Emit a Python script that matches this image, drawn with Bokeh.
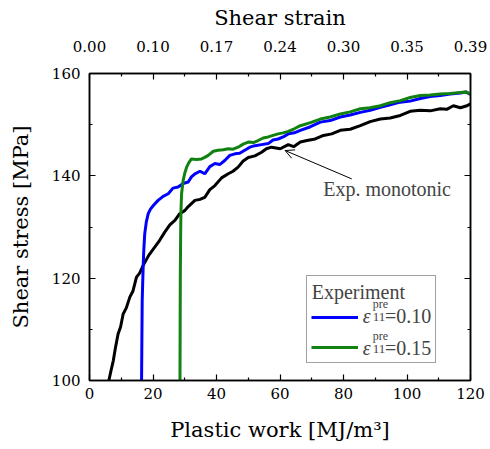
from bokeh.plotting import figure
from bokeh.models import (LinearAxis, FixedTicker, Legend, LegendItem, Label, Arrow, OpenHead)
from bokeh.embed import file_html
from bokeh.resources import INLINE

# ---- data ----
black_x = [5.8, 6.1, 6.8, 7.5, 8.2, 9.0, 9.8, 10.6, 11.6, 12.7,
           13.7, 14.8, 15.8, 16.9, 18.7, 20.6, 22.1, 23.7, 25.3, 26.9,
           28.4, 30.0, 31.1, 33.2, 34.8, 36.3, 37.9, 39.5, 41.6, 43.7,
           45.2, 46.8, 48.4, 50.0, 52.1, 54.2, 55.7, 57.3, 60.1, 62.6,
           64.3, 66.4, 68.5, 71.1, 73.7, 76.3, 79.0, 82.1, 85.3, 88.4,
           91.6, 94.7, 97.9, 101.0, 104.2, 107.3, 110.5, 112.5, 114.6, 116.8,
           118.9, 120.0]
black_y = [98.0, 100.0, 102.0, 103.9, 106.5, 109.1, 110.5, 113.0, 114.2, 116.3,
           117.5, 120.2, 121.0, 122.5, 124.5, 126.1, 127.4, 129.0, 130.4, 131.3,
           132.6, 133.2, 134.0, 135.2, 135.4, 135.8, 137.3, 138.1, 139.6, 140.4,
           140.9, 141.7, 142.9, 143.6, 143.9, 144.6, 145.3, 145.6, 145.3, 146.1,
           145.7, 146.6, 146.9, 147.2, 147.9, 148.2, 148.9, 149.1, 149.8, 150.6,
           151.1, 151.3, 151.8, 152.6, 152.8, 152.7, 153.1, 153.0, 153.7, 153.3,
           153.7, 154.1]

blue_x = [16.4, 16.4, 16.5, 16.6, 16.75, 16.9, 17.1, 17.4, 17.9, 18.5,
          19.2, 20.1, 21.6, 23.2, 24.8, 26.3, 27.9, 29.5, 31.1, 32.1,
          33.2, 34.8, 36.3, 37.9, 39.5, 41.0, 42.6, 44.2, 45.8, 47.3,
          48.9, 50.5, 52.1, 54.2, 56.3, 57.8, 59.4, 61.0, 62.6, 64.5,
          66.4, 69.6, 72.7, 75.8, 79.0, 82.1, 85.3, 88.4, 91.6, 94.7,
          97.9, 101.0, 104.2, 107.3, 110.5, 113.6, 116.8, 118.5, 120.0]
blue_y = [98.0, 100.0, 108.0, 115.6, 119.0, 122.1, 125.5, 128.7, 131.0, 132.6,
          133.5, 134.2, 135.2, 136.0, 136.5, 137.6, 137.8, 138.5, 138.8, 139.8,
          140.4, 140.9, 140.4, 141.8, 142.4, 142.2, 143.0, 144.0, 144.3, 144.4,
          145.0, 145.6, 145.9, 146.1, 146.3, 147.0, 147.2, 147.6, 148.2, 148.4,
          148.9, 149.6, 150.5, 150.8, 151.5, 151.9, 152.4, 152.8, 153.4, 153.9,
          154.4, 154.6, 155.1, 155.5, 155.7, 156.0, 156.2, 156.4, 155.9]

green_x = [28.5, 28.5, 28.55, 28.6, 28.7, 28.8, 29.0, 29.5, 30.0, 30.6,
           31.3, 32.1, 33.7, 35.3, 36.3, 37.4, 39.0, 40.5, 42.1, 43.7,
           45.2, 46.8, 48.4, 50.0, 51.6, 53.1, 54.7, 56.3, 57.8, 59.4,
           61.0, 62.6, 64.5, 66.4, 69.6, 72.7, 75.8, 79.0, 82.1, 85.3,
           88.4, 91.6, 94.7, 97.9, 101.0, 104.2, 107.3, 110.5, 113.6, 116.8,
           118.5, 120.0]
green_y = [98.0, 100.0, 110.0, 120.0, 128.0, 133.0, 136.5, 139.1, 140.5, 141.7,
           142.6, 143.3, 143.2, 143.3, 143.6, 144.0, 144.8, 145.0, 145.1, 145.3,
           145.2, 145.6, 146.2, 146.6, 146.5, 146.9, 147.4, 147.6, 147.9, 148.2,
           148.4, 148.7, 149.2, 149.8, 150.4, 151.1, 151.5, 152.1, 152.5, 153.1,
           153.3, 153.7, 154.3, 154.7, 155.3, 155.7, 155.8, 156.0, 156.1, 156.3,
           156.4, 156.0]

x_ticks = [0, 20, 40, 60, 80, 100, 120]
x_minor = [10, 30, 50, 70, 90, 110]
y_ticks = [100, 120, 140, 160]
y_minor = [110, 130, 150]
strain_labels = ["0.00", "0.10", "0.17", "0.24", "0.30", "0.35", "0.39"]

FONT = "Liberation Serif"
AXFONT = "DejaVu Serif"

p = figure(width=490, height=449, x_range=(0, 120), y_range=(100, 160),
           output_backend="svg", toolbar_location=None,
           min_border_left=89, min_border_right=20, min_border_top=73, min_border_bottom=69)
p.grid.visible = False
p.outline_line_color = "black"
p.outline_line_width = 1.5

def style_axis(ax, labels=True):
    ax.axis_line_width = 1.5
    ax.axis_line_color = "black"
    ax.major_tick_in = 6
    ax.major_tick_out = 0
    ax.minor_tick_in = 3
    ax.minor_tick_out = 0
    ax.major_tick_line_width = 1.2
    ax.minor_tick_line_width = 1.2
    ax.major_label_text_font = AXFONT
    ax.major_label_text_font_size = "15px"
    ax.major_label_text_color = "black" if labels else None
    ax.axis_label_text_font = AXFONT
    ax.axis_label_text_font_size = "21px"
    ax.axis_label_text_font_style = "normal"
    ax.axis_label_text_color = "black"

xb = p.xaxis[0]
xb.ticker = FixedTicker(ticks=x_ticks, minor_ticks=x_minor)
xb.axis_label = "Plastic work [MJ/m³]"
style_axis(xb)
xb.major_label_standoff = 7
xb.axis_label_standoff = 16

yl = p.yaxis[0]
yl.ticker = FixedTicker(ticks=y_ticks, minor_ticks=y_minor)
yl.axis_label = "Shear stress [MPa]"
style_axis(yl)
yl.major_label_standoff = 9
yl.axis_label_standoff = 16

xt = LinearAxis(ticker=FixedTicker(ticks=x_ticks, minor_ticks=x_minor),
                major_label_overrides={t: s for t, s in zip(x_ticks, strain_labels)},
                axis_label="Shear strain")
style_axis(xt)
xt.major_label_standoff = 22
xt.axis_label_standoff = 8
p.add_layout(xt, "above")

yr = LinearAxis(ticker=FixedTicker(ticks=y_ticks, minor_ticks=y_minor),
                major_label_overrides={t: "" for t in y_ticks})
style_axis(yr, labels=False)
yr.major_label_text_font_size = "0px"
yr.major_label_standoff = 0
p.add_layout(yr, "right")

rb = p.line(black_x, black_y, line_color="black", line_width=3)
rblue = p.line(blue_x, blue_y, line_color="#0000ff", line_width=3)
rg = p.line(green_x, green_y, line_color="#118211", line_width=3)

legend = Legend(items=[LegendItem(label=" ", renderers=[rblue]),
                       LegendItem(label=" ", renderers=[rg])],
                title=" ", location=(217, 17),
                border_line_color="#444444", border_line_width=1,
                background_fill_color="white", background_fill_alpha=0,
                padding=4, spacing=8, glyph_width=47, glyph_height=22,
                label_height=22, label_width=68, label_standoff=5, margin=0,
                title_text_font=AXFONT, title_text_font_size="20px",
                title_text_font_style="normal", title_standoff=2,
                label_text_font=AXFONT, label_text_font_size="20px")
p.add_layout(legend)

# legend title and label texts with super/subscripts
p.add_layout(Label(x=70.0, y=117.3, text="Experiment", text_font=FONT,
                   text_font_size="20px", text_baseline="alphabetic"))
for val, yb in (("=0.10", 112.6), ("=0.15", 106.4)):
    p.add_layout(Label(x=86.1, y=yb, text="ε", text_font=FONT, text_font_size="20px",
                       text_font_style="italic", text_baseline="alphabetic"))
    p.add_layout(Label(x=89.2, y=yb + 2.3, text="pre", text_font=FONT, text_font_size="12px",
                       text_baseline="alphabetic"))
    p.add_layout(Label(x=89.2, y=yb - 0.2, text="11", text_font=FONT, text_font_size="13px",
                       text_baseline="alphabetic"))
    p.add_layout(Label(x=93.1, y=yb, text=val, text_font=FONT, text_font_size="20px",
                       text_baseline="alphabetic"))

p.add_layout(Arrow(end=OpenHead(size=9, line_width=1), x_start=82.6, y_start=139.4,
                   x_end=61.6, y_end=144.95, line_width=1, line_color="black"))
p.add_layout(Label(x=73.6, y=137.5, text="Exp. monotonic", text_font=FONT,
                   text_font_size="20px", text_baseline="alphabetic"))

open("out.html", "w").write(file_html(p, INLINE))
